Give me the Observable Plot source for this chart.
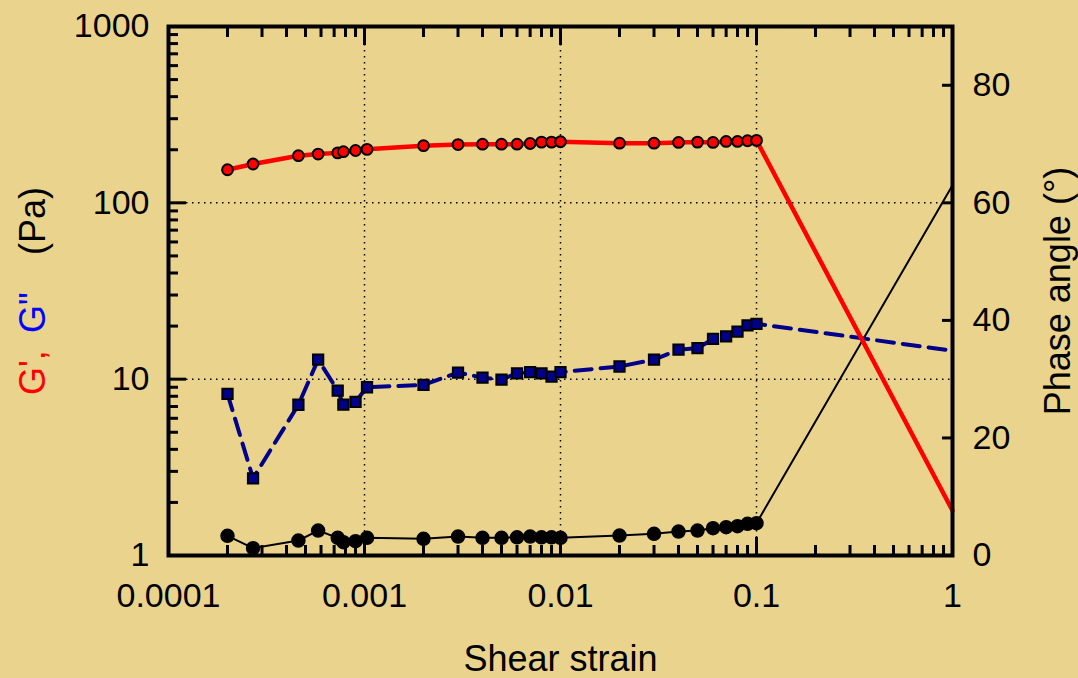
<!DOCTYPE html>
<html>
<head>
<meta charset="utf-8">
<script src="https://cdn.jsdelivr.net/npm/d3@7"></script>
<script src="https://cdn.jsdelivr.net/npm/@observablehq/plot@0.6"></script>
<style>
html, body { margin: 0; padding: 0; background: #EAD48D; }
#chart svg { display: block; }
</style>
</head>
<body>
<div id="chart"></div>
<script>
// ---- data ----
const strain = [0.0002, 0.00027, 0.00046, 0.00058, 0.00073, 0.00078, 0.0009, 0.00103, 0.002, 0.003, 0.004, 0.005, 0.006, 0.007, 0.008, 0.009, 0.01, 0.02, 0.03, 0.04, 0.05, 0.06, 0.07, 0.08, 0.09, 0.1, 1];
const gPrime = [154, 166, 185, 189, 192, 195, 198, 201, 211, 214, 215, 215, 215, 217, 221, 221, 222, 218, 218, 220, 221, 220, 223, 223, 225, 226, 1.8];
const gDoublePrime = [8.26, 2.74, 7.16, 12.9, 8.62, 7.18, 7.44, 9.0, 9.29, 10.9, 10.2, 9.95, 10.8, 10.96, 10.8, 10.35, 10.96, 11.8, 12.9, 14.7, 15.0, 16.9, 17.5, 18.6, 20.2, 20.6, 14.5];
const phaseAngle = [3.35, 1.24, 2.55, 4.25, 3.0, 2.26, 2.43, 3.0, 2.84, 3.23, 3.0, 3.0, 3.1, 3.23, 3.1, 3.1, 3.0, 3.4, 3.69, 4.08, 4.25, 4.65, 4.82, 4.99, 5.39, 5.5, 63];

const xTicks = [0.0001, 0.001, 0.01, 0.1, 1];
const xTickLabels = ["0.0001", "0.001", "0.01", "0.1", "1"];
const yTicks = [1, 10, 100, 1000];
const yTickLabels = ["1", "10", "100", "1000"];
const phaseTicks = [0, 20, 40, 60, 80];
const phaseTickLabels = ["0", "20", "40", "60", "80"];
const xGrid = [0.001, 0.01, 0.1];
const yGrid = [10, 100];

// ---- helpers ----
// phase angle 0..90° shares the left log axis: 90° spans its three decades
const phaseToY = a => Math.pow(10, a / 30);
const nearestIndex = (arr, v) => {
  let best = 0;
  arr.forEach((a, i) => { if (Math.abs(Math.log10(a) - Math.log10(v)) < Math.abs(Math.log10(arr[best]) - Math.log10(v))) best = i; });
  return best;
};
const minorsOf = decades => decades.flatMap(d => [2, 3, 4, 5, 6, 7, 8, 9].map(k => d * k));
const xMinor = minorsOf([0.0001, 0.001, 0.01, 0.1]);
const yMinor = minorsOf([1, 10, 100]);

const rows = strain.map((s, i) => ({strain: s, gp: gPrime[i], gpp: gDoublePrime[i], ph: phaseToY(phaseAngle[i])}));
const markers = rows.filter(d => d.strain < 1);
const phaseTickRows = phaseTicks.map((a, i) => ({y: phaseToY(a), label: phaseTickLabels[i]}));

const FONT = "Liberation Sans, Arial, Helvetica, sans-serif";
const blank = () => "";

const chart = Plot.plot({
  width: 1078,
  height: 678,
  marginLeft: 168,
  marginRight: 126,
  marginTop: 26,
  marginBottom: 123,
  style: {background: "#EAD48D", fontFamily: FONT, fontSize: "34px", color: "black"},
  x: {type: "log", domain: [0.0001, 1]},
  y: {type: "log", domain: [1, 1000]},
  marks: [
    Plot.gridX({ticks: xGrid, stroke: "black", strokeOpacity: 1, strokeWidth: 1.5, strokeDasharray: "1.5,4.5"}),
    Plot.gridY({ticks: yGrid, stroke: "black", strokeOpacity: 1, strokeWidth: 1.5, strokeDasharray: "1.5,4.5"}),
    // phase angle
    Plot.line(rows, {x: "strain", y: "ph", stroke: "black", strokeWidth: 2}),
    Plot.dot(markers, {x: "strain", y: "ph", r: 6.5, fill: "black", stroke: "black"}),
    // G''
    Plot.line(rows, {x: "strain", y: "gpp", stroke: "#00008B", strokeWidth: 4, strokeDasharray: "17,9"}),
    Plot.dot(markers, {x: "strain", y: "gpp", symbol: "square", r: 5.8, fill: "#00008B", stroke: "black", strokeWidth: 2}),
    // G'
    Plot.line(rows, {x: "strain", y: "gp", stroke: "#FF0000", strokeWidth: 4.5}),
    Plot.dot(markers, {x: "strain", y: "gp", r: 5.4, fill: "#FF0000", stroke: "black", strokeWidth: 2}),
    // frame
    Plot.frame({stroke: "black", strokeWidth: 4}),
    // axes
    Plot.axisX({anchor: "bottom", ticks: xTicks, tickSize: -18, tickPadding: 45, strokeWidth: 3,
      tickFormat: d => xTickLabels[nearestIndex(xTicks, d)], fontSize: 34, fill: "black", label: null}),
    Plot.axisX({anchor: "bottom", ticks: xMinor, tickSize: -10, strokeWidth: 3, tickFormat: blank, label: null}),
    Plot.axisX({anchor: "top", ticks: xTicks, tickSize: -18, strokeWidth: 3, tickFormat: blank, label: null}),
    Plot.axisX({anchor: "top", ticks: xMinor, tickSize: -10, strokeWidth: 3, tickFormat: blank, label: null}),
    Plot.axisY({anchor: "left", ticks: yTicks, tickSize: -18, tickPadding: 37, strokeWidth: 3,
      tickFormat: d => yTickLabels[nearestIndex(yTicks, d)], fontSize: 34, fill: "black", label: null}),
    Plot.axisY({anchor: "left", ticks: yMinor, tickSize: -10, strokeWidth: 3, tickFormat: blank, label: null}),
    Plot.axisY({anchor: "right", ticks: phaseTickRows.map(d => d.y), tickSize: -11, strokeWidth: 3, tickFormat: blank, label: null}),
    Plot.text(phaseTickRows, {y: "y", text: "label", frameAnchor: "right", dx: 20, textAnchor: "start", lineAnchor: "middle", fontSize: 34, fill: "black"}),
    // axis titles
    Plot.text(["Shear strain"], {frameAnchor: "bottom", dy: 115, lineAnchor: "bottom", fontSize: 36, fill: "black"}),
    Plot.text(["Phase angle (°)"], {frameAnchor: "right", dx: 106, rotate: -90, textAnchor: "middle", lineAnchor: "middle", fontSize: 36, fill: "black"}),
    Plot.text(["G', "], {frameAnchor: "left", dx: -135, dy: 104, rotate: -90, textAnchor: "start", lineAnchor: "middle", fontSize: 36, fill: "#FF0000"}),
    Plot.text(["G\""], {frameAnchor: "left", dx: -135, dy: 42, rotate: -90, textAnchor: "start", lineAnchor: "middle", fontSize: 36, fill: "#0000FF"}),
    Plot.text(["(Pa)"], {frameAnchor: "left", dx: -135, dy: -36, rotate: -90, textAnchor: "start", lineAnchor: "middle", fontSize: 36, fill: "black"})
  ]
});
document.getElementById("chart").appendChild(chart);
</script>
</body>
</html>
